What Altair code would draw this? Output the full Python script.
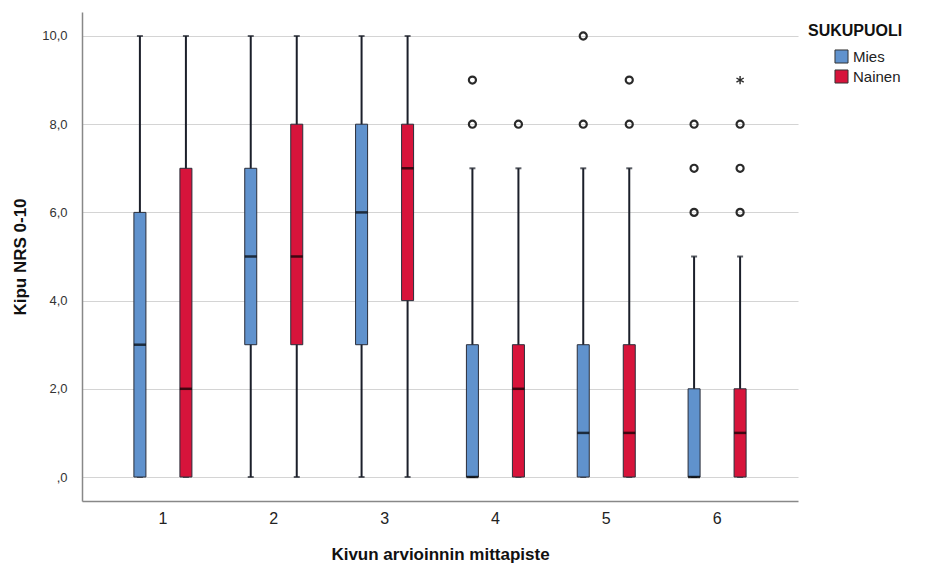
import altair as alt
import pandas as pd

# Measurement points and sex groups
points = ["1", "2", "3", "4", "5", "6"]
groups = ["Mies", "Nainen"]
colors = ["#6092cd", "#d7143b"]

# Box statistics per measurement point (whisker low, Q1, median, Q3, whisker high)
mies_low = [0, 0, 0, 0, 0, 0]
mies_q1 = [0, 3, 3, 0, 0, 0]
mies_med = [3, 5, 6, 0, 1, 0]
mies_q3 = [6, 7, 8, 3, 3, 2]
mies_high = [10, 10, 10, 7, 7, 5]

nainen_low = [0, 0, 0, 0, 0, 0]
nainen_q1 = [0, 3, 4, 0, 0, 0]
nainen_med = [2, 5, 7, 2, 1, 1]
nainen_q3 = [7, 8, 8, 3, 3, 2]
nainen_high = [10, 10, 10, 7, 7, 5]

# Outliers (circles) and extreme values (stars)
mies_out_point = ["4", "4", "5", "5", "6", "6", "6"]
mies_out_value = [8, 9, 8, 10, 6, 7, 8]
nainen_out_point = ["4", "5", "5", "6", "6", "6"]
nainen_out_value = [8, 8, 9, 6, 7, 8]
nainen_ext_point = ["6"]
nainen_ext_value = [9]

boxes = pd.DataFrame({
    "piste": points * 2,
    "SUKUPUOLI": ["Mies"] * 6 + ["Nainen"] * 6,
    "low": mies_low + nainen_low,
    "q1": mies_q1 + nainen_q1,
    "med": mies_med + nainen_med,
    "q3": mies_q3 + nainen_q3,
    "high": mies_high + nainen_high,
})
caps = pd.concat([
    boxes[["piste", "SUKUPUOLI", "low"]].rename(columns={"low": "v"}),
    boxes[["piste", "SUKUPUOLI", "high"]].rename(columns={"high": "v"}),
])
outliers = pd.DataFrame({
    "piste": mies_out_point + nainen_out_point,
    "SUKUPUOLI": ["Mies"] * len(mies_out_point) + ["Nainen"] * len(nainen_out_point),
    "v": mies_out_value + nainen_out_value,
})
extremes = pd.DataFrame({
    "piste": nainen_ext_point,
    "SUKUPUOLI": ["Nainen"] * len(nainen_ext_point),
    "v": nainen_ext_value,
})

FONT = "Liberation Sans"
ydom = [-0.544, 10.544]

x_enc = alt.X(
    "piste:N",
    sort=points,
    scale=alt.Scale(domain=points, paddingInner=0, paddingOuter=0.23),
    axis=alt.Axis(
        title="Kivun arvioinnin mittapiste",
        labelAngle=0,
        ticks=False,
        grid=False,
        labelFontSize=16,
        labelPadding=9,
        labelColor="#222222",
        titleFontSize=17,
        titleFontWeight="bold",
        titleColor="#111111",
        titlePadding=20,
        domainColor="#888888",
        domainWidth=1.5,
    ),
)
xo_enc = alt.XOffset(
    "SUKUPUOLI:N",
    scale=alt.Scale(domain=groups, paddingInner=0.739, paddingOuter=0.574),
)


def y_enc(field):
    return alt.Y(
        field,
        type="quantitative",
        scale=alt.Scale(domain=ydom, nice=False, zero=False),
        axis=alt.Axis(
            title="Kipu NRS 0-10",
            values=[0, 2, 4, 6, 8, 10],
            labelExpr="datum.value == 0 ? ',0' : replace(format(datum.value, '.1f'), '.', ',')",
            ticks=False,
            grid=True,
            gridColor="#d4d4d4",
            gridWidth=1.2,
            labelFontSize=13,
            labelPadding=15,
            labelColor="#333333",
            titleFontSize=17,
            titleFontWeight="bold",
            titleColor="#111111",
            titlePadding=12,
            domainColor="#888888",
            domainWidth=1.5,
        ),
    )


whiskers = alt.Chart(boxes).mark_rule(color="#1b1f2a", strokeWidth=2).encode(
    x=x_enc, xOffset=xo_enc, y=y_enc("low"), y2="high"
)
cap_ticks = alt.Chart(caps).mark_tick(color="#1b1f2a", size=6, thickness=2).encode(
    x=x_enc, xOffset=xo_enc, y=y_enc("v")
)
box_bars = alt.Chart(boxes).mark_bar(stroke="#2a2e3a", strokeWidth=1).encode(
    x=x_enc,
    xOffset=xo_enc,
    y=y_enc("q1"),
    y2="q3",
    fill=alt.Fill(
        "SUKUPUOLI:N",
        scale=alt.Scale(domain=groups, range=colors),
        legend=alt.Legend(
            title="SUKUPUOLI",
            orient="none",
            legendX=726,
            legendY=11,
            titleFontSize=16,
            titleFontWeight="bold",
            titleColor="#111111",
            titleFont=FONT,
            titlePadding=10,
            symbolType="square",
            symbolSize=170,
            symbolStrokeColor="#333333",
            symbolStrokeWidth=1,
            symbolOffset=26,
            labelFontSize=15,
            labelFont=FONT,
            labelColor="#222222",
            labelOffset=4,
            rowPadding=1,
        ),
    ),
)
medians = alt.Chart(boxes).mark_tick(color="#000000", size=12, thickness=2.5).encode(
    x=x_enc, xOffset=xo_enc, y=y_enc("med")
)
outlier_pts = alt.Chart(outliers).mark_point(
    shape="circle", filled=False, size=50, strokeWidth=2.2, color="#2a2a2a", opacity=1
).encode(x=x_enc, xOffset=xo_enc, y=y_enc("v"))

star = "M0,-1L0,1M-0.87,-0.5L0.87,0.5M-0.87,0.5L0.87,-0.5"
extreme_pts = alt.Chart(extremes).mark_point(
    shape=star, filled=False, size=70, strokeWidth=1.4, color="#2a2a2a", opacity=1
).encode(x=x_enc, xOffset=xo_enc, y=y_enc("v"))

chart = (
    alt.layer(whiskers, cap_ticks, box_bars, medians, outlier_pts, extreme_pts)
    .properties(
        width=716,
        height=489,
        autosize=alt.AutoSizeParams(type="none"),
        padding={"left": 82, "top": 12, "right": 134, "bottom": 64},
        background="white",
    )
    .configure_view(stroke=None)
    .configure_axis(labelFont=FONT, titleFont=FONT)
)

chart.save("out.html", embed_options={"renderer": "svg", "actions": False})
